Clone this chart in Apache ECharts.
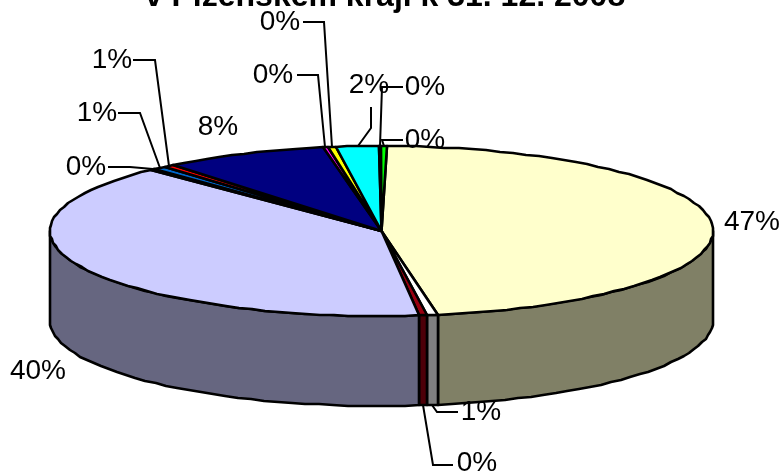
<!DOCTYPE html>
<html><head><meta charset="utf-8">
<style>html,body{margin:0;padding:0;background:#fff}#c{width:782px;height:474px}</style>
<script src="https://cdn.jsdelivr.net/npm/echarts@6/dist/echarts.min.js"></script>
</head><body><div id="c"></div>
<script>
const titleText = 'v Plzeňském kraji k 31. 12. 2008';
const shares = [47.0, 0.55, 0.36, 39.6, 0.2, 0.7, 0.51, 8.0, 0.2, 0.4, 2.1, 0.1, 0.28];
const topColors = ['#FFFFCC','#FFFFFF','#990011','#CCCCFF','#FF8080','#0066CC','#FF0000','#000080','#FF00FF','#FFFF00','#00FFFF','#000080','#00FF00'];
const sideColors = ['#808066','#808080','#4D0008','#666680','#804040','#003366','#800000','#000040','#800080','#808000','#008080','#000040','#008000'];
const labelCenters = [[752,222],[481,412],[477,463],[38,371],[86,167],[97,113],[112,60],[218,127],[273,75],[280,22],[369,85],[425,87],[425,140]];
const leaders = [null,[[458,412],[437,412]],[[453,465],[433,465]],null,[[108,167],[130,167]],[[118,113],[140,113]],[[133,60],[155,60]],null,[[297,75],[318,75]],[[303,22],[324,22]],[[371,107],[371,128]],[[403,87],[382,87]],[[403,140],[382,140]]];
const cx = 381.5, cy = 231, rx = 331.5, ry = 85, depth = 90, startDeg = 1;
const total = shares.reduce((a,b)=>a+b,0);
const starts = []; shares.reduce((a,v,i)=>{starts[i]=a;return a+v/total*360;}, startDeg);
const pt = (deg,dy=0)=>{const r=deg*Math.PI/180;return [Math.round(cx+rx*Math.sin(r)),Math.round(cy-ry*Math.cos(r)+dy)];};
const arc = (a,b,dy=0)=>{const n=Math.max(1,Math.ceil((b-a)/2.5));const o=[];for(let i=0;i<=n;i++)o.push(pt(a+(b-a)*i/n,dy));return o;};
const line = {stroke:'#000',lineWidth:2.6,lineJoin:'round'};
function sideItem(p,api){
  const i=p.dataIndex, a=Math.max(starts[i],90), b=Math.min(starts[i]+api.value(0)/total*360,270);
  if(b<=a) return {type:'group',children:[]};
  const pts=arc(a,b).concat(arc(a,b,depth).reverse());
  return {type:'polygon',shape:{points:pts},style:{fill:sideColors[i],...line}};
}
function topItem(p,api){
  const i=p.dataIndex, a=starts[i], b=a+api.value(0)/total*360;
  return {type:'polygon',shape:{points:[[cx,cy]].concat(arc(a,b))},style:{fill:topColors[i],...line}};
}
function labelItem(p,api){
  const i=p.dataIndex, v=api.value(0), mid=starts[i]+v/total*180, ch=[];
  if(leaders[i]){
    const front=mid>90&&mid<270;
    const end=pt(mid,front?depth:0);
    ch.push({type:'polyline',shape:{points:leaders[i].concat([end])},style:{fill:'none',stroke:'#000',lineWidth:2}});
  }
  ch.push({type:'text',z2:5,style:{x:labelCenters[i][0],y:labelCenters[i][1],text:Math.round(v)+'%',font:'28px "Liberation Sans"',fill:'#000',align:'center',verticalAlign:'middle'}});
  return {type:'group',children:ch};
}
const data = shares.map(v=>[v]);
const chart = echarts.init(document.getElementById('c'),null,{renderer:'canvas'});
chart.setOption({
  animation:false,
  backgroundColor:'#fff',
  title:{text:titleText,left:380,textAlign:'center',top:-24,textStyle:{fontFamily:'Liberation Sans',fontSize:32,fontWeight:'bold',color:'#000'}},
  series:[
    {type:'custom',coordinateSystem:'none',data,renderItem:sideItem,z:1,silent:true},
    {type:'custom',coordinateSystem:'none',data,renderItem:topItem,z:2,silent:true},
    {type:'custom',coordinateSystem:'none',data,renderItem:labelItem,z:3,silent:true}
  ]
});
</script></body></html>
